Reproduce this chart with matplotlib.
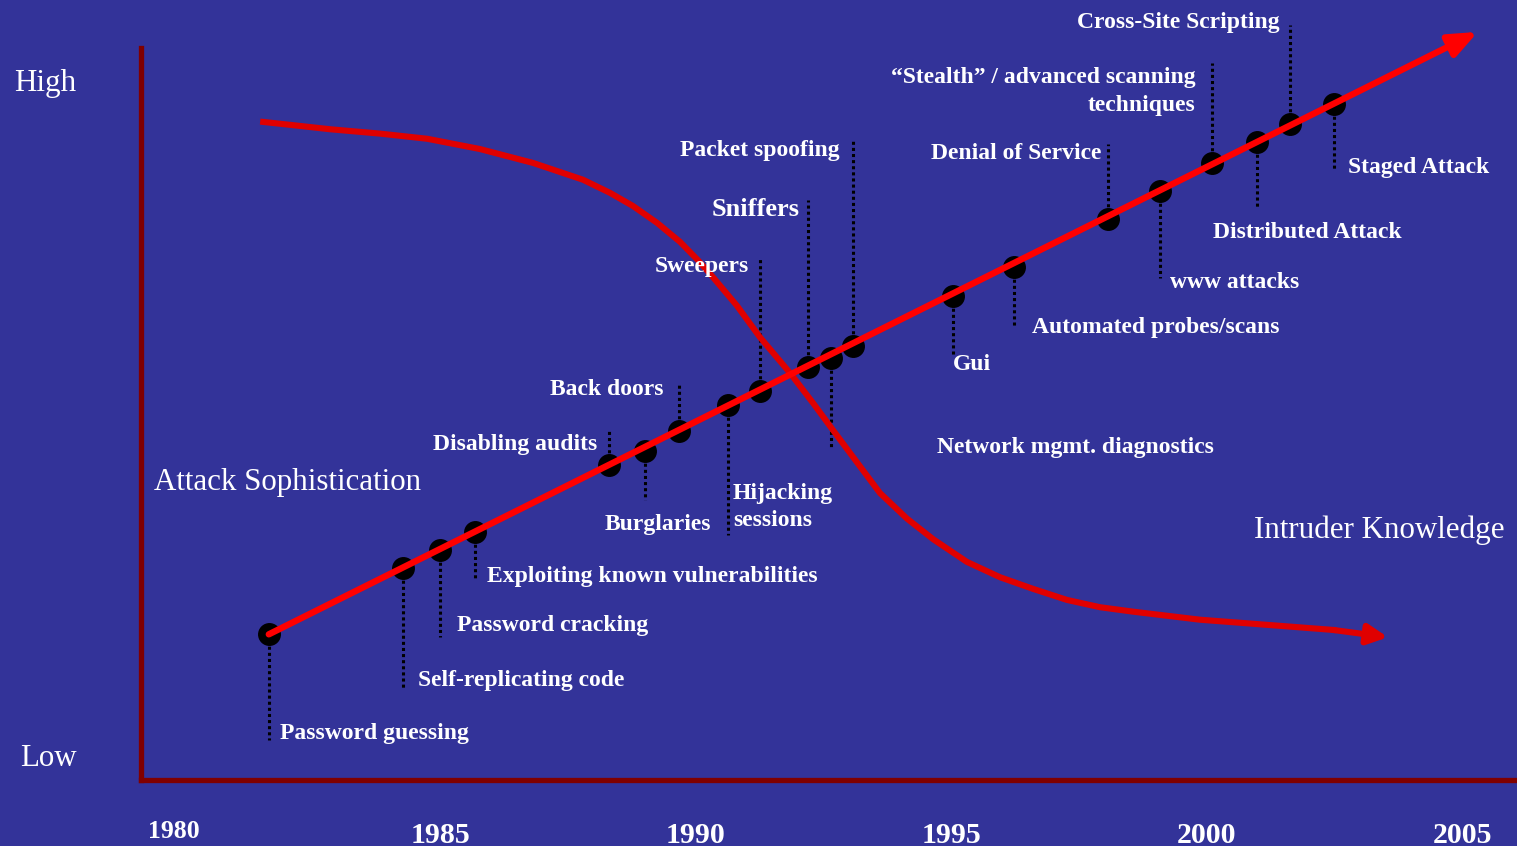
import matplotlib
matplotlib.use("Agg")
import matplotlib.pyplot as plt
from matplotlib.transforms import ScaledTranslation

# ==========================================================
# Data (x = year, y = relative level 0..100)
# ==========================================================

attack_labels = [
    "Password guessing", "Self-replicating code", "Password cracking",
    "Exploiting known vulnerabilities", "Disabling audits", "Burglaries",
    "Back doors", "Hijacking\nsessions", "Sweepers", "Sniffers",
    "Network mgmt. diagnostics", "Packet spoofing", "Gui",
    "Automated probes/scans", "Denial of Service", "www attacks",
    "\u201cStealth\u201d / advanced scanning\ntechniques", "Distributed Attack",
    "Cross-Site Scripting", "Staged Attack",
]
attack_years = [1981.65, 1984.28, 1985.00, 1985.68, 1988.31, 1989.01,
                1989.68, 1990.64, 1991.27, 1992.20, 1992.65, 1993.08,
                1995.04, 1996.23, 1998.07, 1999.09, 2000.11, 2000.99,
                2001.63, 2002.50]
attack_levels = [19.9, 29.0, 31.4, 33.9, 43.0, 44.9, 47.7, 51.2, 53.1, 56.4,
                 57.7, 59.3, 66.1, 70.1, 76.6, 80.5, 84.3, 87.2, 89.6, 92.3]
leader_end = [5.5, 12.6, 19.5, 27.6, 47.8, 38.3, 54.2, 33.5, 71.2, 79.2,
              45.2, 87.4, 57.8, 61.9, 86.9, 68.6, 98.0, 78.1, 103.1, 83.3]
trend_end = (2005.31, 102.2)

knowledge_years = [1981.54, 1982.07, 1982.85, 1983.83, 1984.75, 1985.78,
                   1986.82, 1987.80, 1988.33, 1988.78, 1989.25, 1989.70,
                   1990.05, 1990.34, 1990.81, 1991.26, 1991.85, 1992.30,
                   1992.69, 1993.16, 1993.61, 1994.14, 1994.65, 1995.31,
                   1995.96, 1996.61, 1997.27, 1997.92, 1998.56, 1999.87,
                   2001.18, 2002.48, 2003.55]
knowledge_levels = [89.9, 89.5, 88.9, 88.3, 87.6, 86.2, 84.3, 82.0, 80.2,
                    78.4, 76.1, 73.5, 71.0, 68.7, 64.8, 60.5, 55.6, 51.5,
                    47.8, 43.4, 39.2, 35.7, 32.9, 29.8, 27.7, 26.1, 24.6,
                    23.6, 23.0, 21.9, 21.2, 20.5, 19.5]

year_ticks = [1985, 1990, 1995, 2000, 2005]
first_year = 1980

# label anchors (year, level, horizontal alignment)
label_pos = [
    (1981.87, 6.7, "left"), (1984.57, 13.9, "left"), (1985.33, 21.4, "left"),
    (1985.92, 28.1, "left"), (1988.07, 46.2, "right"), (1989.27, 35.2, "center"),
    (1989.38, 53.7, "right"), (1990.73, 37.6, "left"), (1990.13, 70.5, "center"),
    (1991.17, 78.3, "center"), (1994.73, 45.8, "left"), (1992.83, 86.3, "right"),
    (1995.04, 57.1, "left"), (1996.59, 62.2, "left"), (1997.94, 85.9, "right"),
    (1999.29, 68.3, "left"), (1999.78, 94.4, "right"), (2000.13, 75.1, "left"),
    (2001.44, 103.8, "right"), (2002.77, 84.0, "left"),
]

# ==========================================================
# Style
# ==========================================================

BG = "#333399"
AXIS_RED = "#800000"
SERIF = ["Liberation Serif", "DejaVu Serif"]

plt.rcParams["font.family"] = SERIF

fig = plt.figure(figsize=(15.17, 8.46), dpi=100, facecolor=BG)
ax = fig.add_axes([140.5 / 1517, 66 / 846, 1376.5 / 1517, 732 / 846])
ax.set_facecolor(BG)
ax.set_xlim(1979.139, 2006.076)
ax.set_ylim(0, 100)

for side in ["top", "right"]:
    ax.spines[side].set_visible(False)
for side in ["left", "bottom"]:
    ax.spines[side].set_color(AXIS_RED)
    ax.spines[side].set_linewidth(3.8)

# small downward nudge so text centres sit like the original
nudge = ScaledTranslation(0, -2.5 / 100, fig.dpi_scale_trans)

# ==========================================================
# Axis ticks
# ==========================================================

ax.set_xticks(year_ticks)
ax.set_xticklabels([str(y) for y in year_ticks], fontsize=21.5,
                   fontweight="bold", color="white")
ax.tick_params(axis="x", length=0, pad=30)
ax.text(first_year - 0.2, -0.071, str(first_year),
        transform=ax.get_xaxis_transform(), fontsize=18.5,
        fontweight="bold", color="white", ha="center", va="center")

ax.set_yticks([3.4, 95.6])
ax.set_yticklabels(["Low", "High"], fontsize=22.3, color="white")
ax.tick_params(axis="y", length=0, pad=46)

# ==========================================================
# Lines
# ==========================================================

# intruder knowledge curve
ax.plot(knowledge_years[:-1], knowledge_levels[:-1], color="#E00000",
        linewidth=4.4, solid_joinstyle="round", zorder=2, clip_on=False)
ax.annotate("", xy=(knowledge_years[-1], knowledge_levels[-1]),
            xytext=(knowledge_years[-2], knowledge_levels[-2]),
            arrowprops=dict(arrowstyle="-|>,head_length=1.2,head_width=0.6",
                            mutation_scale=10, color="#E00000", lw=4.4,
                            shrinkA=0, shrinkB=0),
            zorder=2, annotation_clip=False)

# leader lines
for x, y0, y1 in zip(attack_years, attack_levels, leader_end):
    ax.plot([x, x], [y0, y1], color="black", linewidth=2.2,
            linestyle=(0, (1, 1)), zorder=1, clip_on=False)

# attack dots
ax.scatter(attack_years, attack_levels, s=240, color="black", zorder=3,
           clip_on=False)

# attack sophistication trend arrow
ax.annotate("", xy=trend_end, xytext=(attack_years[0], attack_levels[0]),
            arrowprops=dict(arrowstyle="-|>,head_length=1.7,head_width=0.7",
                            mutation_scale=10, color="#FF0000", lw=4.6,
                            shrinkA=0, shrinkB=0),
            zorder=4, annotation_clip=False)

# ==========================================================
# Labels
# ==========================================================

for text, (x, y, ha) in zip(attack_labels, label_pos):
    size = 19 if text == "Sniffers" else 17
    ax.text(x, y, text, ha=ha, va="center", fontsize=size, fontweight="bold",
            color="white", multialignment=ha, linespacing=1.4,
            transform=ax.transData + nudge, zorder=5, clip_on=False)

ax.text(154 / 1517, 1 - 480 / 846, "Attack Sophistication",
        transform=fig.transFigure + nudge, fontsize=22.3, color="white",
        ha="left", va="center")
ax.text(1505 / 1517, 1 - 528 / 846, "Intruder Knowledge",
        transform=fig.transFigure + nudge, fontsize=22.3, color="white",
        ha="right", va="center")

fig.savefig("out.png", dpi=100, facecolor=BG)
